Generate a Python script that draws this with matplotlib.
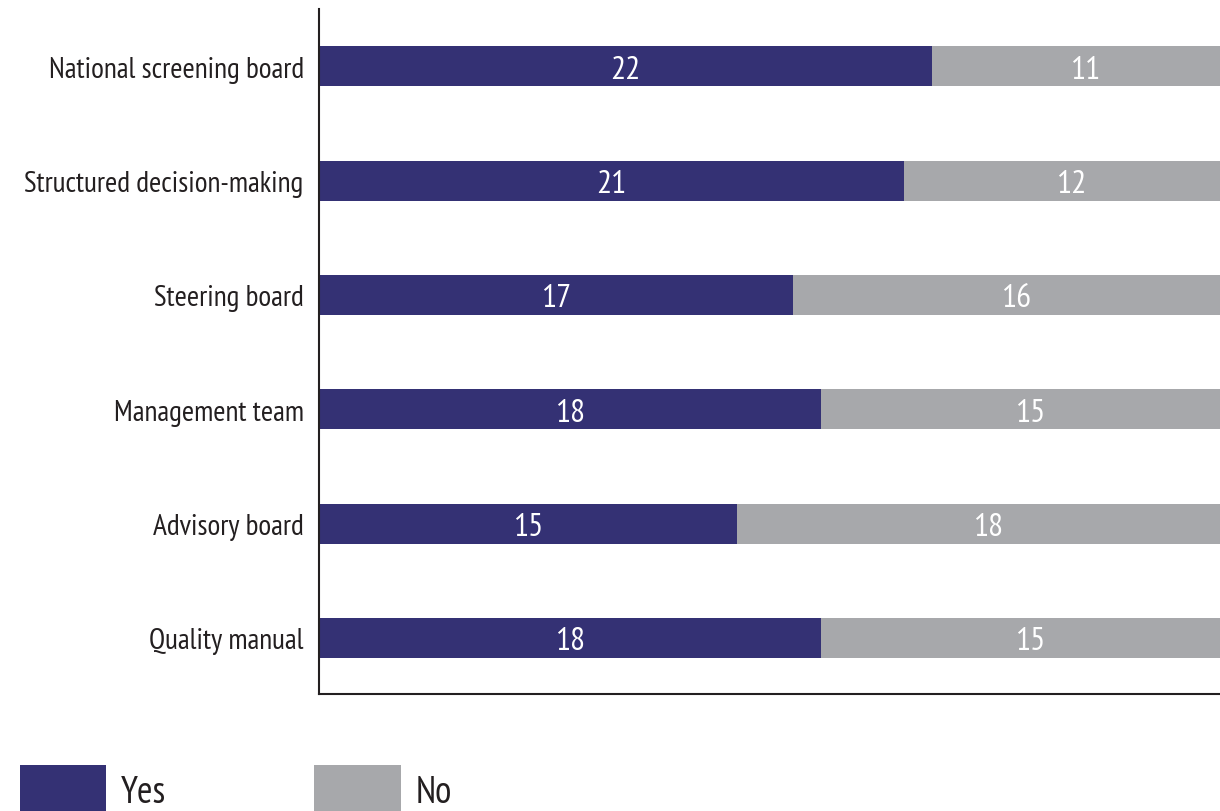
import matplotlib
matplotlib.use("Agg")
import matplotlib.pyplot as plt
from matplotlib.patches import Patch

categories = ["Quality manual", "Advisory board", "Management team",
              "Steering board", "Structured decision-making", "National screening board"]
yes_vals = [18, 15, 18, 17, 21, 22]
no_vals = [15, 18, 15, 16, 12, 11]
series_names = ["Yes", "No"]

YES_C = "#343174"
NO_C = "#A7A8AB"
FAM = ["PT Sans Narrow", "DejaVu Sans"]
plt.rcParams["font.family"] = FAM

fig = plt.figure(figsize=(12.2, 8.12), dpi=100)
ax = fig.add_axes([319/1220, 117/812, 919.7/1220, 685/812])

y = list(range(len(categories)))
ax.barh(y, yes_vals, height=0.35, color=YES_C, label=series_names[0])
ax.barh(y, no_vals, left=yes_vals, height=0.35, color=NO_C, label=series_names[1])

for i in y:
    ax.text(yes_vals[i] / 2, i, str(yes_vals[i]), ha="center", va="center_baseline",
            color="white", fontsize=24)
    ax.text(yes_vals[i] + no_vals[i] / 2, i, str(no_vals[i]), ha="center", va="center_baseline",
            color="white", fontsize=24)

ax.set_xlim(0, 33)
ax.set_ylim(-0.49, 5.5)
ax.set_yticks(y)
ax.set_yticklabels(categories, fontsize=21.2, color="#231F20")
for lab in ax.get_yticklabels():
    lab.set_verticalalignment("center_baseline")
ax.tick_params(axis="y", length=0, pad=11)
ax.set_xticks([])
for s in ["top", "right"]:
    ax.spines[s].set_visible(False)
for s in ["left", "bottom"]:
    ax.spines[s].set_linewidth(1.5)
    ax.spines[s].set_color("#231F20")

handles = [Patch(facecolor=YES_C, edgecolor="none"), Patch(facecolor=NO_C, edgecolor="none")]
fig.legend(handles, series_names, loc="lower left", bbox_to_anchor=(20/1220, -0.004),
           ncol=2, frameon=False, fontsize=27, handlelength=2.3, handleheight=1.65,
           handletextpad=0.4, columnspacing=3.94, borderaxespad=0, borderpad=0,
           labelcolor="#231F20")

fig.savefig("out.png", dpi=100)
